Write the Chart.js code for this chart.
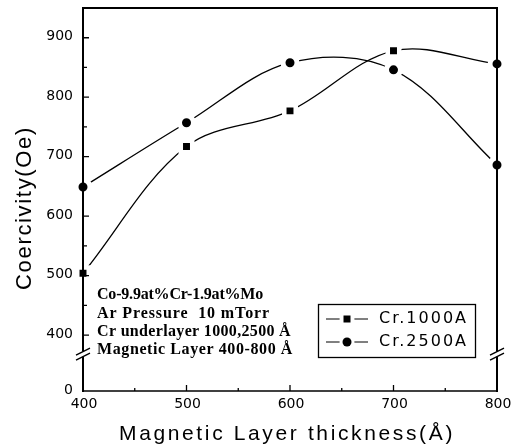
<!DOCTYPE html>
<html>
<head>
<meta charset="utf-8">
<script src="https://cdn.jsdelivr.net/npm/chart.js@4.4.0/dist/chart.umd.min.js"></script>
<style>
html, body { margin: 0; padding: 0; background: #fff; }
</style>
</head>
<body>
<canvas id="chart" width="519" height="446"></canvas>
<script>
// values
const thickness = [400, 500, 600, 700, 800];
const cr1000 = [504, 717, 777, 878, 856];
const cr2500 = [649, 757, 858, 846, 686];
const seriesNames = ['Cr.1000A', 'Cr.2500A'];
const cr1000Markers = ['rect', 'rect', 'rect', 'rect', 'circle'];
// the y axis is broken: the bottom of the axis stands for 0
const yTickValues = [306, 400, 500, 600, 700, 800, 900];
const yTickLabels = ['0', '400', '500', '600', '700', '800', '900'];
const yMinorValues = [450, 550, 650, 750, 850];
const xTickValues = [400, 500, 600, 700, 800];
const xMinorValues = [450, 550, 650, 750];
const notes = ['Co-9.9at%Cr-1.9at%Mo', 'Ar Pressure  10 mTorr', 'Cr underlayer 1000,2500 Å', 'Magnetic Layer 400-800 Å'];
const noteWidths = [166, 173, 194, 196];
const breakValue = 368;

function spaced(ctx, text, left, y, width) {
    ctx.letterSpacing = '0px';
    const w = ctx.measureText(text).width;
    ctx.letterSpacing = ((width - w) / text.length) + 'px';
    ctx.textAlign = 'left';
    ctx.fillText(text, left, y);
    ctx.letterSpacing = '0px';
}

function marker(ctx, style, x, y) {
    ctx.fillStyle = '#fff';
    ctx.beginPath();
    ctx.arc(x, y, 7.5, 0, Math.PI * 2);
    ctx.fill();
    ctx.fillStyle = '#000';
    ctx.beginPath();
    if (style === 'rect') {
        ctx.rect(x - 3.5, y - 3.5, 7, 7);
    } else {
        ctx.arc(x, y, 4.5, 0, Math.PI * 2);
    }
    ctx.fill();
}

const framePlugin = {
    id: 'frame',
    afterDatasetsDraw(chart) {
        const ctx = chart.ctx;
        const a = chart.chartArea;
        const x = chart.scales.x;
        const y = chart.scales.y;
        ctx.save();
        ctx.strokeStyle = '#000';
        ctx.lineCap = 'butt';

        // box
        ctx.lineWidth = 2;
        ctx.beginPath();
        ctx.moveTo(a.left, a.top); ctx.lineTo(a.right, a.top);
        ctx.moveTo(a.left, a.top - 1); ctx.lineTo(a.left, a.bottom + 1);
        ctx.moveTo(a.right, a.top - 1); ctx.lineTo(a.right, a.bottom + 1);
        ctx.stroke();
        ctx.lineWidth = 1.6;
        ctx.beginPath();
        ctx.moveTo(a.left, a.bottom); ctx.lineTo(a.right, a.bottom);
        ctx.stroke();

        // inward ticks
        ctx.lineWidth = 1.3;
        ctx.beginPath();
        yTickValues.slice(1).forEach(v => {
            const py = y.getPixelForValue(v);
            ctx.moveTo(a.left, py); ctx.lineTo(a.left + 6, py);
        });
        yMinorValues.forEach(v => {
            const py = y.getPixelForValue(v);
            ctx.moveTo(a.left, py); ctx.lineTo(a.left + 4, py);
        });
        xTickValues.slice(1, -1).forEach(v => {
            const px = x.getPixelForValue(v);
            ctx.moveTo(px, a.bottom); ctx.lineTo(px, a.bottom - 6);
        });
        xMinorValues.forEach(v => {
            const px = x.getPixelForValue(v);
            ctx.moveTo(px, a.bottom); ctx.lineTo(px, a.bottom - 3);
        });
        ctx.stroke();

        // axis breaks
        const by = y.getPixelForValue(breakValue);
        [a.left, a.right].forEach(ax => {
            ctx.fillStyle = '#fff';
            ctx.fillRect(ax - 3, by - 2.5, 6, 5);
            ctx.lineWidth = 1.4;
            ctx.beginPath();
            ctx.moveTo(ax - 7, by + 1); ctx.lineTo(ax + 7, by - 6);
            ctx.moveTo(ax - 7, by + 6); ctx.lineTo(ax + 7, by - 1);
            ctx.stroke();
        });
        ctx.restore();
    },
    afterDraw(chart) {
        const ctx = chart.ctx;
        const a = chart.chartArea;
        const x = chart.scales.x;
        const y = chart.scales.y;
        ctx.save();
        ctx.fillStyle = '#000';
        ctx.strokeStyle = '#000';
        ctx.textBaseline = 'middle';

        // tick labels
        ctx.font = '14px "DejaVu Sans"';
        ctx.textAlign = 'right';
        yTickValues.forEach((v, i) => {
            ctx.fillText(yTickLabels[i], a.left - 10, y.getPixelForValue(v) - 1);
        });
        ctx.textAlign = 'center';
        xTickValues.forEach(v => {
            ctx.fillText(String(v), x.getPixelForValue(v) + 1, a.bottom + 13);
        });

        // axis titles
        ctx.font = '21px "Liberation Sans"';
        spaced(ctx, 'Magnetic Layer thickness(Å)', 119, 434, 336);
        ctx.save();
        ctx.translate(25, 209);
        ctx.rotate(-Math.PI / 2);
        ctx.font = '22px "Liberation Sans"';
        spaced(ctx, 'Coercivity(Oe)', -81, 0, 164);
        ctx.restore();

        // sample notes
        ctx.font = 'bold 16px "Liberation Serif"';
        notes.forEach((t, i) => {
            spaced(ctx, t, 97, 295 + i * 18.4, noteWidths[i]);
        });

        // legend
        ctx.lineWidth = 1.3;
        ctx.strokeRect(318.5, 304.5, 157, 53);
        const styles = ['rect', 'circle'];
        ctx.font = '16px "DejaVu Sans"';
        [319, 342].forEach((ly, i) => {
            ctx.lineWidth = 1;
            ctx.beginPath();
            ctx.moveTo(326, ly); ctx.lineTo(368, ly);
            ctx.stroke();
            marker(ctx, styles[i], 347, ly);
            ctx.fillStyle = '#000';
            spaced(ctx, seriesNames[i], 379, ly, 89);
        });
        ctx.restore();
    }
};

new Chart(document.getElementById('chart'), {
    type: 'line',
    data: {
        datasets: [
            {
                label: seriesNames[0],
                data: thickness.map((t, i) => ({ x: t, y: cr1000[i] })),
                pointStyle: cr1000Markers,
                pointRadius: cr1000Markers.map(s => s === 'rect' ? 8.1 : 7),
                pointBorderWidth: cr1000Markers.map(s => s === 'rect' ? 4.5 : 5),
                pointBackgroundColor: '#000',
                pointBorderColor: '#fff',
                borderColor: '#000',
                borderWidth: 1.3,
                tension: 0.35,
                clip: false
            },
            {
                label: seriesNames[1],
                data: thickness.map((t, i) => ({ x: t, y: cr2500[i] })),
                pointStyle: 'circle',
                pointRadius: 7,
                pointBorderWidth: 5,
                pointBackgroundColor: '#000',
                pointBorderColor: '#fff',
                borderColor: '#000',
                borderWidth: 1.3,
                tension: 0.35,
                clip: false
            }
        ]
    },
    options: {
        responsive: false,
        animation: false,
        layout: { autoPadding: false, padding: { top: 8, right: 22, left: 0, bottom: 0 } },
        plugins: {
            legend: { display: false },
            tooltip: { enabled: false }
        },
        scales: {
            x: {
                type: 'linear',
                min: 400,
                max: 800,
                grid: { display: false },
                border: { display: false },
                ticks: { display: false },
                afterBuildTicks: scale => { scale.ticks = xTickValues.map(v => ({ value: v })); },
                afterFit: scale => { scale.height = 55; }
            },
            y: {
                type: 'linear',
                min: 306,
                max: 950,
                grid: { display: false },
                border: { display: false },
                ticks: { display: false },
                afterBuildTicks: scale => { scale.ticks = yTickValues.map(v => ({ value: v })); },
                afterFit: scale => { scale.width = 83; }
            }
        }
    },
    plugins: [framePlugin]
});
</script>
</body>
</html>
